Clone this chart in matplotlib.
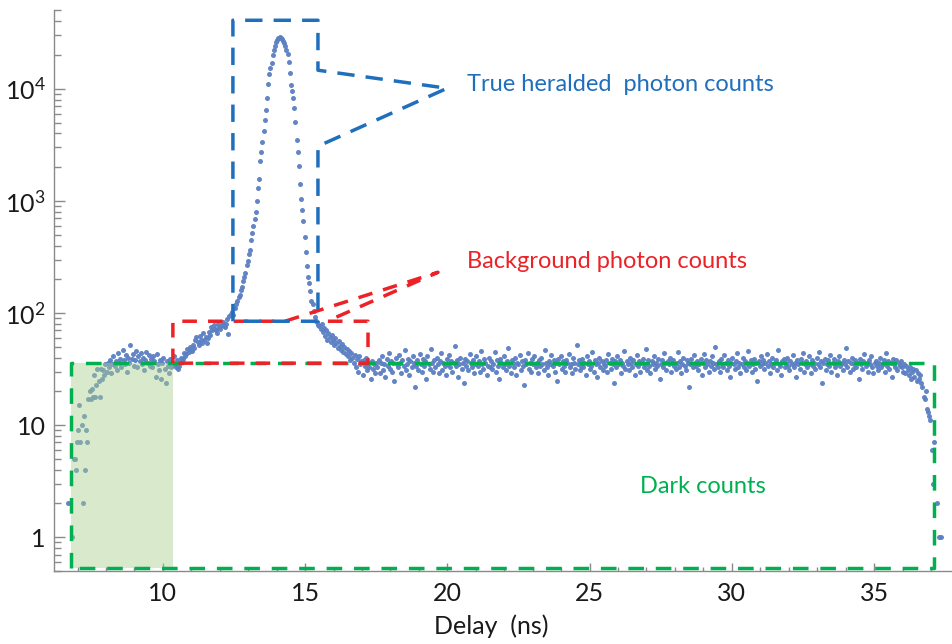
import numpy as np
import matplotlib.pyplot as plt
from matplotlib.ticker import FixedLocator, LogLocator, MultipleLocator, NullFormatter

plt.rcParams['font.family'] = ['Lato', 'DejaVu Sans']
plt.rcParams['mathtext.fontset'] = 'custom'
plt.rcParams['mathtext.rm'] = 'Lato'

# Histogram bins (ns)
delay_start = 6.66
bin_width = 0.04

# counts per bin
counts_rise = [2, 0, 0, 0, 1, 5, 5, 4, 7, 9, 15, 7, 10, 2, 12, 4, 9, 7, 17, 20,
               17, 21, 18, 28, 18, 23, 32, 25, 18, 32, 26, 31, 28, 35]
counts_plateau = [30, 36, 33, 38, 29, 35, 41, 34, 37, 31, 44, 36, 39, 33, 47, 38, 35, 42, 30, 40,
                  36, 52, 39, 43, 34, 38, 46, 33, 41, 37, 44, 35, 40, 31, 38, 45, 36, 42, 34, 39,
                  33, 41, 37, 27, 43, 35, 31, 38, 26, 36, 40, 32, 24, 37, 34, 29, 39, 33, 36, 41]
counts_shoulder = [35, 33, 38, 32, 34, 40, 37, 39, 44, 41, 43, 48, 45, 50, 47, 46, 52, 49, 57, 61,
                   55, 52, 63, 58, 54, 66, 57, 61, 54, 60, 68, 64, 75, 70, 78, 72, 70, 66, 80, 75,
                   72, 79, 84, 76, 75, 80, 88, 65, 95, 99]
counts_peak = [102, 97, 112, 110, 121, 127, 140, 146, 160, 170, 193, 211, 228, 270, 293, 333,
               362, 447, 513, 603, 692, 794, 1000, 1318, 1585, 2291, 2754, 3388, 4169, 5248,
               6457, 8318, 10965, 13490, 15490, 16980, 19950, 22390, 24270, 26000, 27230,
               28180, 28840, 28510, 27860, 26920, 25700, 23990, 22390, 20420, 17380, 13800,
               10720, 9550, 8318, 6760, 5012, 3467, 2754, 2042, 1413, 1047, 832, 661, 479,
               351, 263, 209, 186, 158, 129, 120, 105, 93, 85, 83, 79, 76]
counts_tail = [72, 80, 68, 74, 63, 70, 58, 66, 61, 55, 64, 57, 52, 60, 54, 49, 56, 51, 47, 53,
               45, 50, 43, 48, 41, 46, 38, 44, 40, 36, 42, 33, 39, 30, 41, 35, 37, 28, 38, 34,
               40, 31, 36, 33, 26, 37, 32, 35, 29, 36]
counts_flat = [
    33, 38, 29, 36, 41, 31, 35, 27, 39, 34, 44, 32, 37, 30, 36, 25, 40, 35, 33, 42,
    36, 29, 38, 34, 47, 31, 35, 39, 28, 37, 33, 41, 36, 22, 34, 38, 31, 43, 35, 30,
    39, 34, 37, 26, 41, 35, 32, 48, 36, 30, 38, 33, 40, 35, 29, 37, 44, 31, 36, 34,
    28, 39, 35, 42, 33, 37, 30, 36, 51, 34, 38, 27, 35, 40, 32, 36, 24, 39, 34, 37,
    31, 43, 36, 33, 38, 29, 35, 41, 34, 37, 30, 46, 35, 32, 39, 36, 28, 34, 40, 33,
    37, 32, 35, 45, 30, 38, 34, 26, 39, 36, 33, 41, 35, 31, 37, 49, 34, 29, 38, 36,
    33, 40, 28, 36, 35, 42, 31, 37, 34, 23, 38, 35, 44, 32, 36, 30, 39, 35, 41, 33,
    36, 29, 38, 34, 40, 35, 31, 47, 36, 33, 28, 37, 35, 42, 34, 38, 30, 36, 25, 39,
    35, 41, 32, 37, 34, 30, 38, 36, 43, 33, 35, 29, 40, 36, 32, 52, 35, 38, 31, 34,
    39, 33, 36, 28, 41, 35, 37, 32, 34, 45, 30, 38, 35, 27, 36, 40, 33, 37, 31, 35,
    34, 38, 30, 43, 36, 32, 39, 35, 24, 37, 33, 41, 35, 38, 29, 36, 34, 46, 32, 37,
    35, 31, 40, 36, 33, 38, 28, 35, 42, 34, 37, 30, 36, 39, 33, 35, 48, 31, 38, 34,
    29, 37, 35, 41, 32, 36, 34, 39, 26, 35, 38, 33, 44, 36, 31, 37, 35, 40, 30, 36,
    38, 34, 32, 36, 45, 33, 37, 29, 35, 40, 34, 31, 38, 36, 22, 35, 39, 33, 42, 36,
    34, 37, 31, 35, 39, 28, 36, 43, 33, 38, 35, 30, 37, 34, 41, 36, 32, 50, 35, 33,
    37, 30, 39, 35, 33, 42, 36, 31, 38, 34, 27, 36, 40, 35, 32, 37, 44, 33, 36, 29,
    35, 40, 33, 37, 31, 36, 46, 34, 38, 30, 35, 39, 32, 36, 25, 37, 34, 41, 35, 38,
    32, 36, 43, 34, 37, 29, 35, 40, 33, 36, 38, 31, 47, 35, 34, 28, 37, 39, 33, 36,
    40, 34, 31, 37, 35, 42, 33, 36, 27, 38, 35, 32, 39, 36, 44, 30, 35, 37, 33, 41,
    35, 29, 38, 34, 36, 32, 40, 35, 45, 33, 37, 24, 36, 39, 31, 35, 38, 34, 42, 30,
    36, 39, 33, 35, 28, 37, 41, 34, 36, 31, 38, 35, 49, 33, 37, 30, 36, 40, 32, 35,
    38, 33, 36, 26, 39, 35, 32, 37, 43, 34, 36, 30, 38, 35, 41, 33, 29, 36, 37, 34,
    31, 36, 40, 33, 35, 38, 30, 44, 34, 37, 32, 36, 27, 39, 35, 33, 38, 31, 36, 34,
    37, 33, 30, 35, 29, 34, 31, 28, 33, 26, 30, 32, 27, 31, 25, 29, 26, 28]
counts_fall = [24, 22, 18, 17, 20, 14, 13, 12, 11, 6, 3, 7, 0, 0, 2, 0, 1, 1]

counts = np.array(counts_rise + counts_plateau + counts_shoulder + counts_peak
                  + counts_tail + counts_flat + counts_fall, dtype=float)
delay = delay_start + bin_width * np.arange(len(counts))
keep = counts > 0

blue = '#1f6fbd'
red = '#ec2227'
green = '#00b050'

fig = plt.figure(figsize=(9.52, 6.44), dpi=100)
ax = fig.add_axes([0.0567, 0.1134, 0.9433, 0.8703])
ax.set_yscale('log')
ax.set_xlim(6.17, 37.74)
ax.set_ylim(0.5, 5e4)

ax.scatter(delay[keep], counts[keep], s=13, color='#5b7fc3', lw=0, alpha=0.95, zorder=2)

# dark-count region
ax.fill_between([6.78, 10.37], 0.53, 35.7, color='#a9d08e', alpha=0.45, lw=0, zorder=3)
ax.plot([6.78, 6.78, 37.11, 37.11, 6.78], [0.53, 35.7, 35.7, 0.53, 0.53],
        color=green, lw=2.5, dashes=(4.5, 3.4), zorder=4)

# background callout
ax.plot([10.35, 10.35, 14.29, 19.67, 15.77, 17.21, 17.21, 10.35],
        [35.7, 84.5, 84.5, 231, 84.5, 84.5, 35.7, 35.7],
        color=red, lw=2.5, dashes=(4.2, 3.2), zorder=5)

# heralded photon callout
ax.plot([12.46, 12.46, 15.45, 15.45, 19.99, 15.45, 15.45, 12.46],
        [84.5, 40900, 40900, 14660, 10120, 3076, 84.5, 84.5],
        color=blue, lw=2.5, dashes=(5, 3.2), zorder=5)

ax.text(20.69, 11000, 'True heralded  photon counts', color=blue, fontsize=17,
        ha='left', va='center')
ax.text(20.69, 290, 'Background photon counts', color=red, fontsize=17,
        ha='left', va='center')
ax.text(26.77, 2.85, 'Dark counts', color=green, fontsize=17, ha='left', va='center')

# axes styling
for side in ['top', 'right']:
    ax.spines[side].set_visible(False)
for side in ['left', 'bottom']:
    ax.spines[side].set_color('#8a8a8a')
    ax.spines[side].set_linewidth(1.0)

ax.yaxis.set_major_locator(FixedLocator([1, 10, 100, 1000, 10000]))
ax.set_yticklabels(['1', '10', r'$\mathregular{10^2}$', r'$\mathregular{10^3}$',
                    r'$\mathregular{10^4}$'])
ax.yaxis.set_minor_locator(LogLocator(base=10, subs=np.arange(2, 10)))
ax.yaxis.set_minor_formatter(NullFormatter())
ax.xaxis.set_major_locator(MultipleLocator(5))
ax.xaxis.set_minor_locator(MultipleLocator(1))

ax.tick_params(axis='both', which='both', direction='in', color='#8a8a8a', width=1,
               labelsize=18, labelcolor='#1a1a1a')
ax.tick_params(axis='y', which='major', length=8, pad=6)
ax.tick_params(axis='y', which='minor', length=5)
ax.tick_params(axis='x', which='major', length=6, pad=8)
ax.tick_params(axis='x', which='minor', length=3)

ax.set_xlabel('Delay  (ns)', fontsize=18, color='#1a1a1a')
ax.xaxis.set_label_coords((491 - 54) / 898, -0.078)

fig.savefig('out.png', dpi=100)
